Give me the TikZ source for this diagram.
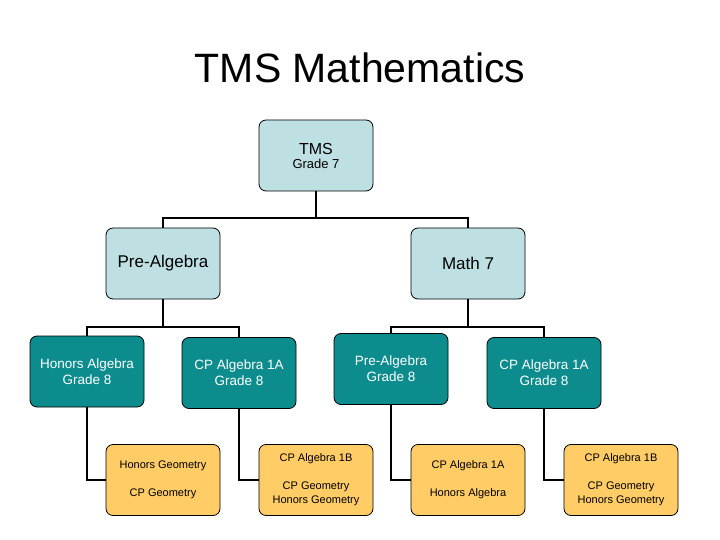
\documentclass[tikz,border=0pt]{standalone}
\usepackage{fontspec}
\setmainfont{Liberation Sans}
\definecolor{lb}{HTML}{BEE0E3}
\definecolor{teal2}{HTML}{0D8C8E}
\definecolor{yel}{HTML}{FFCC66}
\begin{document}
\begin{tikzpicture}[x=1pt,y=-1pt,
  box/.style={draw=black,line width=0.8pt,rounded corners=7pt,minimum width=114pt,minimum height=71pt,inner sep=0pt,align=center},
  top/.style={box,fill=lb},
  mid/.style={box,fill=teal2,text=white,font=\fontsize{13.5}{16}\selectfont},
  bot/.style={box,fill=yel,font=\fontsize{11}{14}\selectfont},
  con/.style={line width=2pt}]
\useasboundingbox (0,0) rectangle (720,540);
\node (title) at (360,68) {\fontsize{41}{48}\selectfont TMS Mathematics};
\node[top] (tms) at (316,155.5) {\fontsize{16}{20}\selectfont TMS\\[2pt]\fontsize{13}{16}\selectfont Grade 7};
\node[top,font=\fontsize{17}{20}\selectfont] (pa) at (163,263.5) {Pre-Algebra};
\node[top,font=\fontsize{17}{20}\selectfont] (m7) at (468,263.5) {Math 7};
\node[mid] (ha) at (87,371.5) {Honors Algebra\\Grade 8};
\node[mid] (ca) at (239,373) {CP Algebra 1A\\Grade 8};
\node[mid] (pg) at (391,369) {Pre-Algebra\\Grade 8};
\node[mid] (cb) at (544,373) {CP Algebra 1A\\Grade 8};
\node[bot] (y1) at (163,480) {Honors Geometry\\[14pt]CP Geometry};
\node[bot] (y2) at (316,480) {CP Algebra 1B\\[14pt]CP Geometry\\Honors Geometry};
\node[bot] (y3) at (468,480) {CP Algebra 1A\\[14pt]Honors Algebra};
\node[bot] (y4) at (621,480) {CP Algebra 1B\\[14pt]CP Geometry\\Honors Geometry};
\draw[con] (tms.south) -- ++(0,27) -| (pa.north);
\draw[con] (tms.south) -- ++(0,27) -| (m7.north);
\draw[con] (pa.south) -- ++(0,28) -| (ha.north);
\draw[con] (pa.south) -- ++(0,28) -| (ca.north);
\draw[con] (m7.south) -- ++(0,28) -| (pg.north);
\draw[con] (m7.south) -- ++(0,28) -| (cb.north);
\draw[con] (ha.south) |- (y1.west);
\draw[con] (ca.south) |- (y2.west);
\draw[con] (pg.south) |- (y3.west);
\draw[con] (cb.south) |- (y4.west);
\end{tikzpicture}
\end{document}
